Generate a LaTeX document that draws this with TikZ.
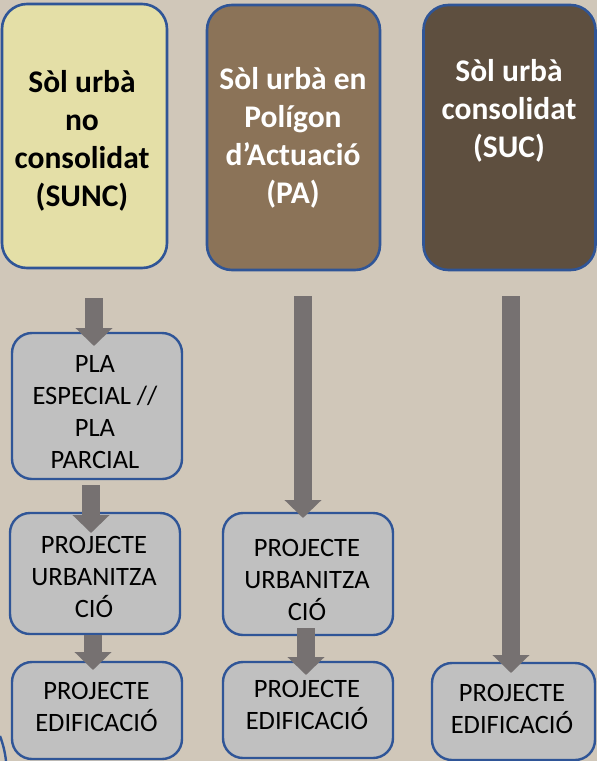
\documentclass[tikz,border=0pt]{standalone}
\usepackage{fontspec}
\setmainfont{Carlito}
\usetikzlibrary{arrows.meta,calc}
\definecolor{bgc}{RGB}{208,199,185}
\definecolor{yelc}{RGB}{228,223,167}
\definecolor{brownc}{RGB}{139,115,88}
\definecolor{darkc}{RGB}{94,79,63}
\definecolor{grayc}{RGB}{192,192,192}
\definecolor{bluec}{RGB}{47,85,151}
\definecolor{arrowc}{RGB}{118,113,113}
\tikzset{
  topbox/.style={draw=bluec, line width=2.6pt, rounded corners=25pt, inner sep=0pt, outer sep=0pt},
  lowbox/.style={draw=bluec, fill=grayc, line width=2.4pt, rounded corners=20pt, inner sep=0pt, outer sep=0pt},
  toptext/.style={align=center, inner sep=0pt, font=\fontsize{31.5}{38}\selectfont\bfseries},
  lowtext/.style={align=center, inner sep=0pt, font=\fontsize{26.5}{32}\selectfont},
  blockarrow/.style={draw=arrowc, line width=18pt, -{Triangle[width=36pt,length=18pt]}, arrowc}
}
\begin{document}
\begin{tikzpicture}[x=1pt,y=-1pt]
\fill[bgc] (0,0) rectangle (597,761);
\useasboundingbox (0,0) rectangle (597,761);
% top boxes
\node[topbox, fill=yelc, minimum width=165pt, minimum height=264pt] (sunc) at (84.5,136) {};
\node[topbox, fill=brownc, minimum width=173pt, minimum height=265pt] (pa) at (293.5,137.5) {};
\node[topbox, fill=darkc, minimum width=172pt, minimum height=265pt] (suc) at (509.5,137.5) {};
\node[toptext, text=black] (sunct) at (82,141) {Sòl urbà\\no\\consolidat\\(SUNC)};
\node[toptext, text=white] (pat) at (293,137.5) {Sòl urbà en\\Polígon\\d’Actuació\\(PA)};
\node[toptext, text=white] (suct) at (509,111) {Sòl urbà\\consolidat\\(SUC)};
% lower boxes
\node[lowbox, minimum width=170pt, minimum height=146pt] (pla) at (97,406) {};
\node[lowbox, minimum width=170pt, minimum height=121pt] (urba) at (95,573.5) {};
\node[lowbox, minimum width=170pt, minimum height=97pt] (edifa) at (97,710.5) {};
\node[lowbox, minimum width=170pt, minimum height=122pt] (urbb) at (308,574) {};
\node[lowbox, minimum width=170pt, minimum height=96pt] (edifb) at (308,710) {};
\node[lowbox, minimum width=163pt, minimum height=97pt] (edifc) at (513.5,711.5) {};
\node[lowtext] (plat) at (95,412) {PLA\\ESPECIAL //\\PLA\\PARCIAL};
\node[lowtext] (urbat) at (94,577) {PROJECTE\\URBANITZA\\CIÓ};
\node[lowtext] (edifat) at (96.5,707) {PROJECTE\\EDIFICACIÓ};
\node[lowtext] (urbbt) at (307,579.5) {PROJECTE\\URBANITZA\\CIÓ};
\node[lowtext] (edifbt) at (307,704.5) {PROJECTE\\EDIFICACIÓ};
\node[lowtext] (edifct) at (512,708.5) {PROJECTE\\EDIFICACIÓ};
% arrow start points
\coordinate (s1) at (94,298);
\coordinate (s2) at (91,485);
\coordinate (s3) at (93,635);
\coordinate (s4) at (303,296);
\coordinate (s5) at (306,628);
\coordinate (s6) at (511,296);
% arrows
\draw[blockarrow] (s1) -- (s1 |- {$(pla.north)+(0,13)$});
\draw[blockarrow] (s2) -- (s2 |- {$(urba.north)+(0,20)$});
\draw[blockarrow] (s3) -- (s3 |- {$(edifa.north)+(0,8)$});
\draw[blockarrow] (s4) -- (s4 |- {$(urbb.north)+(0,5)$});
\draw[blockarrow] (s5) -- (s5 |- {$(edifb.north)+(0,13)$});
\draw[blockarrow] (s6) -- (s6 |- {$(edifc.north)+(0,10)$});
% partial arc at bottom left
\draw[bluec, line width=2.4pt] (0,736) .. controls (3,744) and (5,752) .. (6,761);
\end{tikzpicture}
\end{document}
